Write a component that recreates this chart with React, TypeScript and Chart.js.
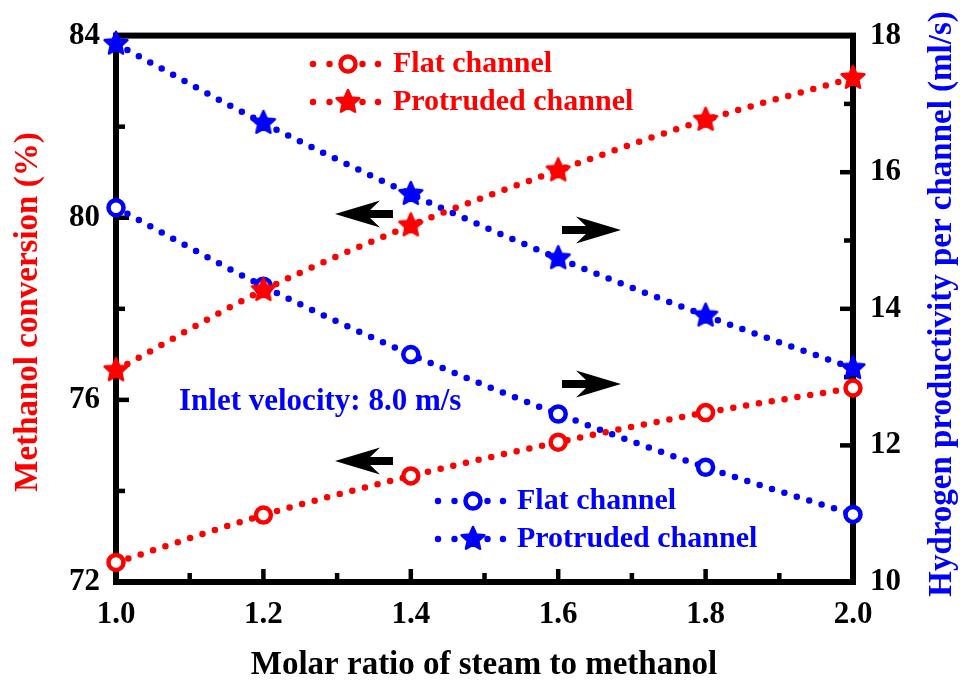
import React, { useEffect, useRef } from "react";
import { Chart, registerables } from "chart.js";

Chart.register(...registerables);

const xValues = [1.0, 1.2, 1.4, 1.6, 1.8, 2.0];
const conversionFlat = [72.43, 73.47, 74.33, 75.07, 75.72, 76.26];
const conversionProtruded = [76.65, 78.41, 79.83, 81.04, 82.15, 83.07];
const hydrogenFlat = [15.48, 14.33, 13.33, 12.46, 11.68, 10.99];
const hydrogenProtruded = [17.88, 16.72, 15.68, 14.74, 13.9, 13.13];

const xTicks = [1.0, 1.2, 1.4, 1.6, 1.8, 2.0];
const xMinorTicks = [1.1, 1.3, 1.5, 1.7, 1.9];
const leftTicks = [72, 76, 80, 84];
const leftMinorTicks = [74, 78, 82];
const rightTicks = [10, 12, 14, 16, 18];
const rightMinorTicks = [11, 13, 15, 17];

const legendLabels = ["Flat channel", "Protruded channel"];
const xTitle = "Molar ratio of steam to methanol";
const leftTitle = "Methanol conversion (%)";
const rightTitle = "Hydrogen productivity per channel (ml/s)";
const noteText = "Inlet velocity: 8.0 m/s";

const RED = "#ff0000";
const BLUE = "#0000ff";
const FONT = "'Liberation Serif', 'Times New Roman', serif";

function makeStar(color: string, size = 28, outer = 12, inner = 5.6): HTMLCanvasElement {
  const c = document.createElement("canvas");
  c.width = size;
  c.height = size;
  const g = c.getContext("2d")!;
  g.beginPath();
  for (let i = 0; i < 10; i++) {
    const r = i % 2 === 0 ? outer : inner;
    const a = -Math.PI / 2 + (i * Math.PI) / 5;
    const px = size / 2 + r * Math.cos(a);
    const py = size / 2 + r * Math.sin(a);
    if (i === 0) g.moveTo(px, py);
    else g.lineTo(px, py);
  }
  g.closePath();
  g.fillStyle = color;
  g.fill();
  g.lineJoin = "round";
  g.lineWidth = 2.5;
  g.strokeStyle = color;
  g.stroke();
  return c;
}

export default function App() {
  const ref = useRef<HTMLCanvasElement | null>(null);

  useEffect(() => {
    const canvas = ref.current;
    if (!canvas) return;
    const redStar = makeStar(RED);
    const blueStar = makeStar(BLUE);

    const lineStyle = (color: string) => ({
      borderColor: color,
      borderDash: [0, 13],
      borderCapStyle: "round" as const,
      borderWidth: 6.5,
      cubicInterpolationMode: "monotone" as const,
      clip: false as any,
      fill: false,
    });

    const circle = (color: string) => ({
      pointStyle: "circle" as const,
      pointRadius: 7.5,
      pointBorderWidth: 4.5,
      pointBackgroundColor: "#ffffff",
      pointBorderColor: color,
    });

    const star = (img: HTMLCanvasElement, color: string) => ({
      pointStyle: img as any,
      pointRadius: 12,
      pointBackgroundColor: color,
      pointBorderColor: color,
    });

    const drawDotLine = (ctx: CanvasRenderingContext2D, x0: number, y: number, color: string) => {
      ctx.fillStyle = color;
      [0, 16.5, 49.5, 65].forEach((dx) => {
        ctx.beginPath();
        ctx.arc(x0 + dx, y, 3.2, 0, Math.PI * 2);
        ctx.fill();
      });
    };

    const drawCircleMarker = (ctx: CanvasRenderingContext2D, x: number, y: number, color: string) => {
      ctx.beginPath();
      ctx.arc(x, y, 7.5, 0, Math.PI * 2);
      ctx.fillStyle = "#ffffff";
      ctx.fill();
      ctx.lineWidth = 4.5;
      ctx.strokeStyle = color;
      ctx.stroke();
    };

    const drawArrow = (ctx: CanvasRenderingContext2D, tipX: number, y: number, tailX: number) => {
      const dir = tailX > tipX ? 1 : -1;
      const headLen = 45;
      const notch = 31;
      const half = 13.5;
      ctx.fillStyle = "#000";
      ctx.beginPath();
      ctx.moveTo(tipX, y);
      ctx.lineTo(tipX + dir * headLen, y - half);
      ctx.lineTo(tipX + dir * notch, y);
      ctx.lineTo(tipX + dir * headLen, y + half);
      ctx.closePath();
      ctx.fill();
      const s0 = tipX + dir * (notch - 3);
      ctx.fillRect(Math.min(s0, tailX), y - 4, Math.abs(tailX - s0), 8);
    };

    const decor = {
      id: "decor",
      beforeDatasetsDraw(chart: any) {
        const { ctx, chartArea } = chart;
        const { left, right, top, bottom } = chartArea;
        const sx = chart.scales.x;
        const sy = chart.scales.y;
        const sy2 = chart.scales.y2;
        ctx.save();
        ctx.strokeStyle = "#000";
        ctx.lineCap = "butt";
        ctx.lineWidth = 4.5;
        const major = 13;
        const minor = 9;
        const tick = (x1: number, y1: number, x2: number, y2: number) => {
          ctx.beginPath();
          ctx.moveTo(x1, y1);
          ctx.lineTo(x2, y2);
          ctx.stroke();
        };
        xTicks.forEach((v) => {
          const px = sx.getPixelForValue(v);
          tick(px, bottom, px, bottom - major);
        });
        xMinorTicks.forEach((v) => {
          const px = sx.getPixelForValue(v);
          tick(px, bottom, px, bottom - minor);
        });
        leftTicks.forEach((v) => {
          const py = sy.getPixelForValue(v);
          tick(left, py, left + major, py);
        });
        leftMinorTicks.forEach((v) => {
          const py = sy.getPixelForValue(v);
          tick(left, py, left + minor, py);
        });
        rightTicks.forEach((v) => {
          const py = sy2.getPixelForValue(v);
          tick(right, py, right - major, py);
        });
        rightMinorTicks.forEach((v) => {
          const py = sy2.getPixelForValue(v);
          tick(right, py, right - minor, py);
        });
        ctx.lineWidth = 6;
        ctx.lineJoin = "miter";
        ctx.strokeRect(left, top, right - left, bottom - top);
        ctx.restore();
      },
      afterDatasetsDraw(chart: any) {
        const { ctx } = chart;
        ctx.save();
        ctx.font = `bold 30px ${FONT}`;
        ctx.textBaseline = "middle";
        ctx.textAlign = "left";
        // top legend (red)
        drawDotLine(ctx, 313, 64, RED);
        drawCircleMarker(ctx, 348, 64, RED);
        ctx.fillStyle = RED;
        ctx.fillText(legendLabels[0], 393, 64);
        drawDotLine(ctx, 313, 102, RED);
        ctx.drawImage(redStar, 348 - 14, 102 - 14);
        ctx.fillStyle = RED;
        ctx.fillText(legendLabels[1], 393, 102);
        // bottom legend (blue)
        drawDotLine(ctx, 438, 501, BLUE);
        drawCircleMarker(ctx, 473, 501, BLUE);
        ctx.fillStyle = BLUE;
        ctx.fillText(legendLabels[0], 517, 501);
        drawDotLine(ctx, 438, 539, BLUE);
        ctx.drawImage(blueStar, 473 - 14, 539 - 14);
        ctx.fillStyle = BLUE;
        ctx.fillText(legendLabels[1], 517, 539);

        // note
        ctx.font = `bold 31px ${FONT}`;
        ctx.fillStyle = BLUE;
        ctx.fillText(noteText, 179, 402);

        // arrows
        drawArrow(ctx, 335, 214, 393);
        drawArrow(ctx, 335, 461, 393);
        drawArrow(ctx, 621, 230, 562);
        drawArrow(ctx, 621, 384, 562);

        // titles
        ctx.font = `bold 33px ${FONT}`;
        ctx.textAlign = "center";
        ctx.fillStyle = "#000";
        ctx.fillText(xTitle, 484, 665);

        ctx.save();
        ctx.translate(28, 312);
        ctx.rotate(-Math.PI / 2);
        ctx.fillStyle = RED;
        ctx.fillText(leftTitle, 0, 0);
        ctx.restore();

        ctx.save();
        ctx.translate(942, 304);
        ctx.rotate(-Math.PI / 2);
        ctx.fillStyle = BLUE;
        ctx.fillText(rightTitle, 0, 0);
        ctx.restore();

        ctx.restore();
      },
    };

    const tickFont = { family: FONT, size: 31, weight: "bold" as const };

    const chart = new Chart(canvas, {
      type: "line",
      data: {
        datasets: [
          {
            label: legendLabels[0],
            data: xValues.map((x, i) => ({ x, y: conversionFlat[i] })),
            yAxisID: "y",
            ...lineStyle(RED),
            ...circle(RED),
          },
          {
            label: legendLabels[1],
            data: xValues.map((x, i) => ({ x, y: conversionProtruded[i] })),
            yAxisID: "y",
            ...lineStyle(RED),
            ...star(redStar, RED),
          },
          {
            label: legendLabels[0],
            data: xValues.map((x, i) => ({ x, y: hydrogenFlat[i] })),
            yAxisID: "y2",
            ...lineStyle(BLUE),
            ...circle(BLUE),
          },
          {
            label: legendLabels[1],
            data: xValues.map((x, i) => ({ x, y: hydrogenProtruded[i] })),
            yAxisID: "y2",
            ...lineStyle(BLUE),
            ...star(blueStar, BLUE),
          },
        ],
      },
      options: {
        animation: false,
        responsive: false,
        maintainAspectRatio: false,
        layout: { padding: { top: 30, left: 0, right: 0, bottom: 0 } },
        plugins: {
          legend: { display: false },
          tooltip: { enabled: false },
          title: { display: false },
        },
        scales: {
          x: {
            type: "linear",
            min: 1,
            max: 2,
            afterBuildTicks: (s: any) => {
              s.ticks = xTicks.map((v) => ({ value: v }));
            },
            ticks: {
              font: tickFont,
              color: "#000",
              padding: 14,
              maxRotation: 0,
              callback: (v: any) => Number(v).toFixed(1),
            },
            grid: { display: false, drawTicks: false },
            border: { display: false },
            afterFit: (s: any) => {
              s.height = 100;
            },
          },
          y: {
            type: "linear",
            position: "left",
            min: 72,
            max: 84,
            afterBuildTicks: (s: any) => {
              s.ticks = leftTicks.map((v) => ({ value: v }));
            },
            ticks: { font: tickFont, color: "#000", padding: 16 },
            grid: { display: false, drawTicks: false },
            border: { display: false },
            afterFit: (s: any) => {
              s.width = 116;
            },
          },
          y2: {
            type: "linear",
            position: "right",
            min: 10,
            max: 18,
            afterBuildTicks: (s: any) => {
              s.ticks = rightTicks.map((v) => ({ value: v }));
            },
            ticks: { font: tickFont, color: "#000", padding: 17 },
            grid: { display: false, drawTicks: false },
            border: { display: false },
            afterFit: (s: any) => {
              s.width = 107;
            },
          },
        },
      },
      plugins: [decor],
    });

    return () => chart.destroy();
  }, []);

  return (
    <div style={{ position: "absolute", left: 0, top: 0, width: 960, height: 682, background: "#fff" }}>
      <canvas ref={ref} width={960} height={682} style={{ width: 960, height: 682, display: "block" }} />
    </div>
  );
}
